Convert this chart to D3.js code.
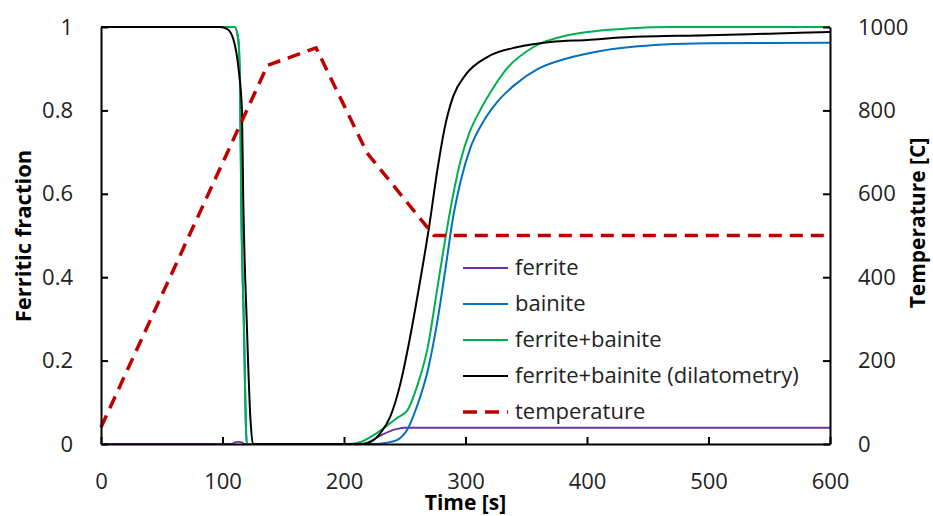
<!DOCTYPE html>
<html>
<head>
<meta charset="utf-8">
<script src="https://cdn.jsdelivr.net/npm/d3@7"></script>
<style>
	body { margin: 0; background: #fff; }
	svg { display: block; font-family: "Open Sans", sans-serif; }
</style>
</head>
<body>
<svg id="chart" width="933" height="516"></svg>
<script>
// values (time in s, fraction 0..1, temperature in C)
const ferriteTime = [0, 108, 110, 113, 116, 118, 215, 219, 225, 230, 238, 244, 249, 600];
const ferriteVal = [0, 0, 0.004, 0.005, 0.004, 0, 0, 0.003, 0.012, 0.02, 0.031, 0.036, 0.039, 0.039];

const bainiteTime = [0, 110, 113, 114.5, 115.4, 117.5, 120, 225, 235, 244, 252, 260, 269, 277, 285, 289, 296, 304, 314, 326, 340, 360, 384, 410, 436, 463, 500, 600];
const bainiteVal = [1, 1, 0.97, 0.85, 0.585, 0.3, 0, 0, 0.003, 0.01, 0.034, 0.09, 0.177, 0.297, 0.45, 0.53, 0.63, 0.71, 0.77, 0.82, 0.86, 0.9, 0.925, 0.942, 0.952, 0.958, 0.961, 0.962];

const fbTime = [0, 110, 113, 114.5, 115.4, 117.5, 120, 205, 215, 222, 230, 238, 245, 252, 260, 269, 277, 285, 290, 296, 303, 312, 322, 334, 356, 384, 436, 470, 600];
const fbVal = [1, 1, 0.97, 0.85, 0.585, 0.3, 0, 0, 0.006, 0.017, 0.032, 0.05, 0.065, 0.08, 0.137, 0.233, 0.377, 0.52, 0.6, 0.68, 0.745, 0.8, 0.85, 0.9, 0.952, 0.98, 0.997, 1, 1];

const dilTime = [0, 98, 104, 109, 113, 116, 117, 120, 123, 125, 215, 222, 230, 238, 246, 254, 262, 270, 277, 283, 290, 300, 318, 343, 370, 400, 436, 500, 550, 600];
const dilVal = [1, 1, 0.995, 0.97, 0.905, 0.8, 0.6, 0.29, 0.06, 0, 0, 0.005, 0.026, 0.065, 0.14, 0.25, 0.38, 0.52, 0.66, 0.76, 0.835, 0.885, 0.928, 0.952, 0.964, 0.969, 0.976, 0.98, 0.984, 0.988];

const tempTime = [0, 137, 177, 219, 274, 600];
const tempVal = [40, 908, 950, 698, 500, 500];

const xTicks = [0, 100, 200, 300, 400, 500, 600];
const yTicks = [0, 0.2, 0.4, 0.6, 0.8, 1];
const y2Ticks = [0, 200, 400, 600, 800, 1000];

const seriesNames = ["ferrite", "bainite", "ferrite+bainite", "ferrite+bainite (dilatometry)", "temperature"];
const seriesColors = ["#7030a0", "#0070c0", "#00b050", "#000000", "#c00000"];

let margin = {top: 27, bottom: 72, left: 101, right: 103};
let svg = d3.select("#chart");
let width = 933 - margin.left - margin.right;
let height = 516 - margin.top - margin.bottom;

let g = svg.append("g").attr("transform", "translate(" + margin.left + "," + margin.top + ")");

let x = d3.scaleLinear().domain([0, 600]).range([0, width]);
let y = d3.scaleLinear().domain([0, 1]).range([height, 0]);
let y2 = d3.scaleLinear().domain([0, 1000]).range([height, 0]);

let fraction = [
	ferriteTime.map((t, i) => ({t: t, v: ferriteVal[i]})),
	bainiteTime.map((t, i) => ({t: t, v: bainiteVal[i]})),
	fbTime.map((t, i) => ({t: t, v: fbVal[i]})),
	dilTime.map((t, i) => ({t: t, v: dilVal[i]}))
];
let temperature = tempTime.map((t, i) => ({t: t, v: tempVal[i]}));

let line = d3.line().x(d => x(d.t)).y(d => y(d.v)).curve(d3.curveMonotoneX);
let tempLine = d3.line().x(d => x(d.t)).y(d => y2(d.v));

fraction.forEach((s, i) => {
	g.append("path")
		.datum(s)
		.attr("fill", "none")
		.attr("stroke", seriesColors[i])
		.attr("stroke-width", i == 0 ? 1.8 : 2)
		.attr("d", line);
});

g.append("path")
	.datum(temperature)
	.attr("fill", "none")
	.attr("stroke", seriesColors[4])
	.attr("stroke-width", 3.5)
	.attr("stroke-dasharray", "13,8")
	.attr("d", tempLine);

// axes: ticks point inward, no top frame
let xAxis = g.append("g")
	.attr("transform", "translate(0," + height + ")")
	.call(d3.axisBottom(x).tickValues(xTicks).tickSizeInner(-7).tickSizeOuter(0).tickPadding(38));
let yAxis = g.append("g")
	.call(d3.axisLeft(y).tickValues(yTicks).tickFormat(d3.format("~g")).tickSizeInner(-7).tickSizeOuter(0).tickPadding(28));
let y2Axis = g.append("g")
	.attr("transform", "translate(" + width + ",0)")
	.call(d3.axisRight(y2).tickValues(y2Ticks).tickFormat(d3.format("d")).tickSizeInner(-7).tickSizeOuter(0).tickPadding(28));

[xAxis, yAxis, y2Axis].forEach(a => {
	a.select(".domain").attr("stroke", "#000").attr("stroke-width", 2);
	a.selectAll(".tick line").attr("stroke", "#000").attr("stroke-width", 2);
	a.selectAll(".tick text")
		.attr("fill", "#222")
		.style("font-size", "22px")
		.style("font-family", "'Open Sans', sans-serif");
});
xAxis.selectAll(".tick text").attr("dy", "0.32em");

// axis titles
svg.append("text")
	.attr("x", margin.left + width / 2)
	.attr("y", 510)
	.attr("text-anchor", "middle")
	.style("font-size", "21px")
	.style("font-weight", "bold")
	.text("Time [s]");
svg.append("text")
	.attr("transform", "translate(31,236) rotate(-90)")
	.attr("text-anchor", "middle")
	.style("font-size", "22px")
	.style("font-weight", "bold")
	.text("Ferritic fraction");
svg.append("text")
	.attr("transform", "translate(925,223) rotate(-90)")
	.attr("text-anchor", "middle")
	.style("font-size", "21px")
	.style("font-weight", "bold")
	.text("Temperature [C]");

// legend
let legend = svg.append("g").attr("transform", "translate(463,268)");
seriesNames.forEach((name, i) => {
	let row = legend.append("g").attr("transform", "translate(0," + (i * 36) + ")");
	row.append("line")
		.attr("x1", 0).attr("x2", 45)
		.attr("stroke", seriesColors[i])
		.attr("stroke-width", i == 4 ? 3.5 : 2)
		.attr("stroke-dasharray", i == 4 ? "14,8" : null);
	row.append("text")
		.attr("x", 52)
		.attr("dy", "0.32em")
		.attr("fill", "#222")
		.style("font-size", "22px")
		.text(name);
});
</script>
</body>
</html>
